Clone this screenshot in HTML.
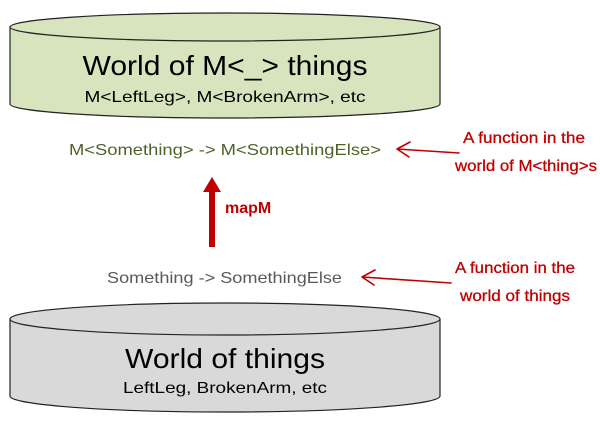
<!DOCTYPE html>
<html><head><style>html,body{margin:0;padding:0;background:#fff}svg{display:block}</style></head>
<body>
<svg width="600" height="430" viewBox="0 0 600 430" xmlns="http://www.w3.org/2000/svg" font-family="Liberation Sans, sans-serif">
<path d="M10,27 L10,104 A215,14 0 0 0 440,104 L440,27 Z" fill="#d7e4bd" stroke="#222" stroke-width="1.2"/>
<ellipse cx="225" cy="27" rx="215" ry="14" fill="#d7e4bd" stroke="#222" stroke-width="1.2"/>
<text x="225" y="75" font-size="28" text-anchor="middle" textLength="285" lengthAdjust="spacingAndGlyphs">World of M&lt;_&gt; things</text>
<text x="225" y="102" font-size="16" text-anchor="middle" textLength="281" lengthAdjust="spacingAndGlyphs">M&lt;LeftLeg&gt;, M&lt;BrokenArm&gt;,  etc</text>
<text x="69" y="155" font-size="16" fill="#4f6228" textLength="312" lengthAdjust="spacingAndGlyphs">M&lt;Something&gt; -&gt; M&lt;SomethingElse&gt;</text>
<path d="M459,153 L397,149 M410,142 L397,149 L409,157" fill="none" stroke="#c00000" stroke-width="1.6" stroke-linecap="round" stroke-linejoin="round"/>
<g font-family="Liberation Sans Narrow, Liberation Sans, sans-serif" font-size="16" fill="#c00000" stroke="#c00000" stroke-width="0.3">
<text x="463" y="143" textLength="122" lengthAdjust="spacingAndGlyphs">A function in the</text>
<text x="455" y="171" textLength="142" lengthAdjust="spacingAndGlyphs">world of M&lt;thing&gt;s</text>
<text x="455" y="273" textLength="120" lengthAdjust="spacingAndGlyphs">A function in the</text>
<text x="460" y="301" textLength="110" lengthAdjust="spacingAndGlyphs">world of things</text>
</g>
<rect x="209" y="190" width="6" height="57" fill="#c00000"/>
<polygon points="212,177 203,192 221,192" fill="#c00000"/>
<text x="225" y="213" font-size="16" font-weight="bold" fill="#c00000">mapM</text>
<text x="107" y="283" font-size="16" fill="#595959" textLength="235" lengthAdjust="spacingAndGlyphs">Something -&gt; SomethingElse</text>
<path d="M451,283 L362,277 M375,270 L362,277 L374,285" fill="none" stroke="#c00000" stroke-width="1.6" stroke-linecap="round" stroke-linejoin="round"/>
<path d="M10,319 L10,396 A215,16 0 0 0 440,396 L440,319 Z" fill="#d9d9d9" stroke="#222" stroke-width="1.2"/>
<ellipse cx="225" cy="319" rx="215" ry="16" fill="#d9d9d9" stroke="#222" stroke-width="1.2"/>
<text x="225" y="368" font-size="28" text-anchor="middle" textLength="200" lengthAdjust="spacingAndGlyphs">World of things</text>
<text x="225" y="393" font-size="16" text-anchor="middle" textLength="204" lengthAdjust="spacingAndGlyphs">LeftLeg, BrokenArm,  etc</text>
</svg>
</body></html>
